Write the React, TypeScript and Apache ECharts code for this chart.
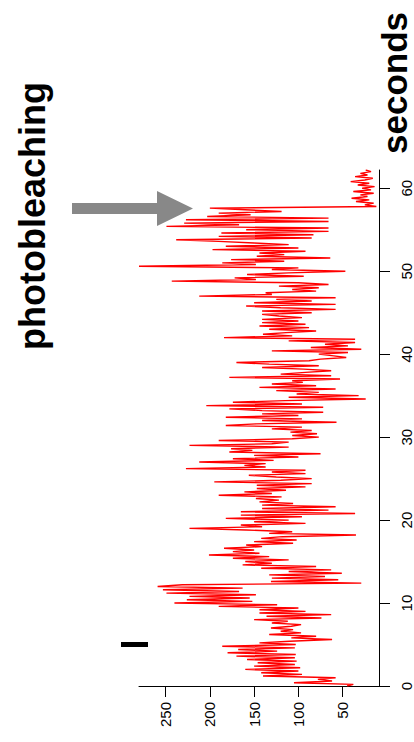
import React, { useEffect, useRef } from "react";
import * as echarts from "echarts";

// sampling interval of the recording (seconds)
const sampleStep = 0.2;

// fluorescence intensity, one row per second (5 samples each)
const intensity: number[] = [
  45, 38, 105, 62, 78,
  58, 140, 96, 142, 100,
  160, 98, 150, 104, 146,
  102, 158, 104, 170, 103,
  180, 124, 168, 104, 186,
  103, 144, 110, 62, 108,
  80, 133, 97, 120, 106,
  131, 108, 97, 130, 112,
  150, 74, 136, 63, 144,
  92, 144, 100, 190, 124,
  240, 152, 226, 155, 223,
  148, 249, 167, 253, 163,
  259, 231, 29, 131, 55,
  130, 70, 133, 51, 111,
  63, 142, 80, 163, 130,
  160, 111, 174, 133, 201,
  144, 174, 150, 184, 141,
  159, 106, 150, 102, 142,
  118, 35, 133, 107, 159,
  223, 141, 165, 92, 150,
  111, 182, 96, 165, 36,
  165, 66, 141, 58, 141,
  106, 144, 122, 148, 119,
  190, 130, 161, 114, 147,
  92, 147, 85, 195, 120,
  85, 125, 156, 92, 130,
  92, 227, 137, 161, 137,
  212, 128, 174, 100, 150,
  75, 178, 152, 176, 111,
  223, 130, 111, 190, 107,
  77, 107, 79, 109, 85,
  130, 96, 182, 148, 57,
  141, 96, 182, 100, 141,
  72, 141, 178, 72, 204,
  96, 174, 115, 24, 111,
  32, 102, 77, 125, 58,
  144, 80, 130, 95, 107,
  53, 178, 63, 120, 92,
  63, 94, 141, 77, 133,
  170, 88, 75, 46, 60,
  77, 44, 130, 29, 86,
  44, 70, 36, 111, 36,
  184, 107, 140, 114, 80,
  133, 88, 144, 92, 141,
  100, 141, 96, 122, 141,
  85, 141, 58, 120, 159,
  58, 150, 85, 125, 58,
  212, 130, 137, 80, 107,
  77, 122, 66, 100, 243,
  148, 172, 94, 158, 111,
  47, 130, 100, 280, 148,
  186, 116, 176, 64, 147,
  116, 144, 92, 197, 100,
  182, 111, 150, 190, 238,
  85, 190, 83, 187, 66,
  159, 66, 249, 167, 229,
  66, 227, 66, 203, 154,
  190, 119, 160, 200, 12,
  25, 15, 35, 20, 40,
  22, 30, 15, 38, 18,
  28, 14, 33, 20, 41,
  25, 16, 36, 22, 30,
  18, 24,
];

const intensityTicks = [50, 100, 150, 200, 250];
const secondTicks = [0, 10, 20, 30, 40, 50, 60];
const timeLabel = "seconds";
const eventLabel = "photobleaching";

const FONT = "'Liberation Sans', Arial, Helvetica, sans-serif";

export default function App() {
  const ref = useRef<HTMLDivElement>(null);

  useEffect(() => {
    if (!ref.current) return;
    const chart = echarts.init(ref.current, null, { renderer: "svg" });
    const data = intensity.map((v, i) => [v, +(i * sampleStep).toFixed(2)]);
    const tMax = +((intensity.length - 1) * sampleStep).toFixed(2);

    chart.setOption({
      animation: false,
      backgroundColor: "#ffffff",
      grid: { left: 139, right: 33, top: 170, bottom: 56, containLabel: false },
      xAxis: {
        type: "value",
        min: 9,
        max: 280,
        inverse: true,
        position: "bottom",
        splitLine: { show: false },
        axisLine: { show: true, onZero: false, lineStyle: { color: "#000", width: 1 } },
        axisTick: {
          show: true,
          length: 11,
          customValues: intensityTicks,
          lineStyle: { color: "#000", width: 1 },
        },
        axisLabel: {
          show: true,
          customValues: intensityTicks,
          rotate: 90,
          margin: 16,
          fontSize: 15,
          color: "#000",
          fontFamily: FONT,
        },
      },
      yAxis: {
        type: "value",
        min: 0,
        max: tMax,
        position: "right",
        splitLine: { show: false },
        axisLine: { show: true, onZero: false, lineStyle: { color: "#000", width: 1 } },
        axisTick: {
          show: true,
          length: 11,
          customValues: secondTicks,
          lineStyle: { color: "#000", width: 1 },
        },
        axisLabel: {
          show: true,
          customValues: secondTicks,
          rotate: 90,
          margin: 20,
          fontSize: 15,
          color: "#000",
          fontFamily: FONT,
        },
      },
      series: [
        {
          type: "line",
          data,
          showSymbol: false,
          symbol: "none",
          lineStyle: { color: "#ff0000", width: 1.4 },
          silent: true,
        },
      ],
      graphic: [
        {
          type: "polygon",
          shape: {
            points: [
              [72, 203],
              [157, 203],
              [157, 191],
              [193, 208.5],
              [157, 226],
              [157, 214],
              [72, 214],
            ],
          },
          style: { fill: "#888888" },
        },
        {
          type: "rect",
          shape: { x: 121, y: 642, width: 27, height: 5 },
          style: { fill: "#000000" },
        },
        {
          type: "text",
          x: 32,
          y: 216,
          rotation: Math.PI / 2,
          style: {
            text: eventLabel,
            fill: "#000",
            fontSize: 36,
            fontWeight: "bold",
            fontFamily: FONT,
            textAlign: "center",
            textVerticalAlign: "middle",
            align: "center",
            verticalAlign: "middle",
          },
        },
        {
          type: "text",
          x: 394,
          y: 83,
          rotation: Math.PI / 2,
          style: {
            text: timeLabel,
            fill: "#000",
            fontSize: 35,
            fontWeight: "bold",
            fontFamily: FONT,
            textAlign: "center",
            textVerticalAlign: "middle",
            align: "center",
            verticalAlign: "middle",
          },
        },
      ],
    });

    return () => chart.dispose();
  }, []);

  return (
    <div
      ref={ref}
      style={{ position: "absolute", left: 0, top: 0, width: 414, height: 742 }}
    />
  );
}
